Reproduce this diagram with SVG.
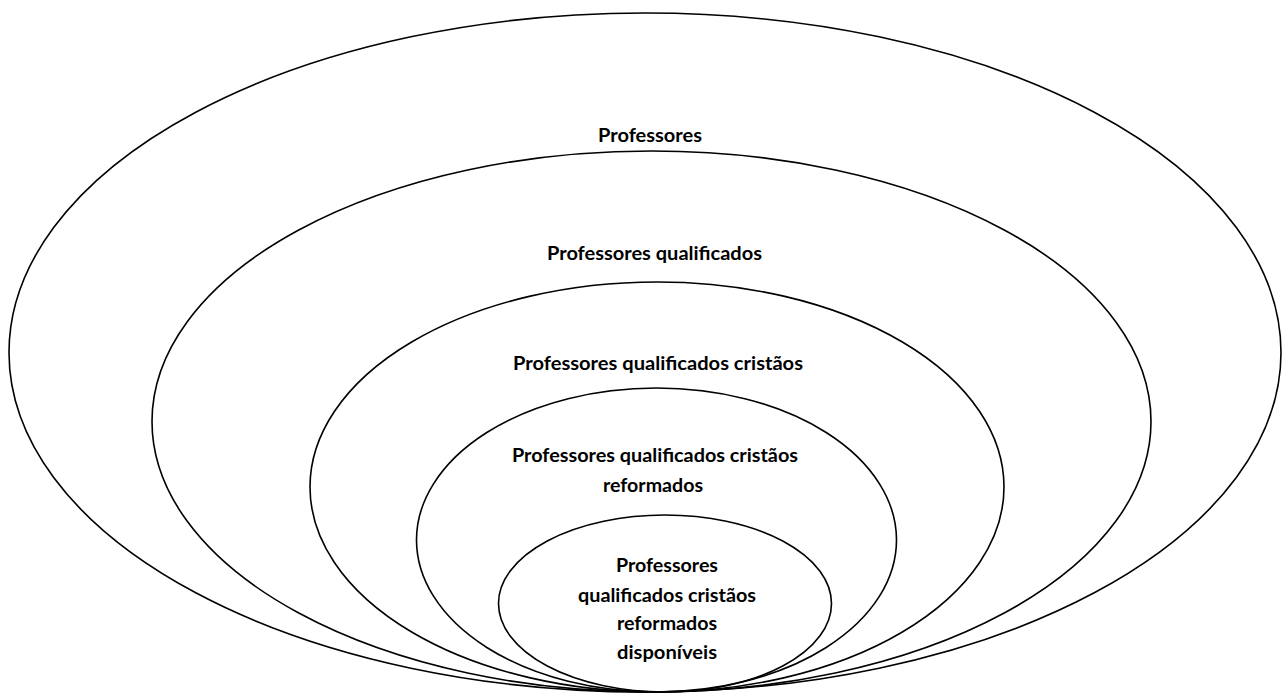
<svg xmlns="http://www.w3.org/2000/svg" width="1283" height="695" viewBox="0 0 1283 695">
<style>
.e{fill:none;stroke:#000;stroke-width:1.6}
.t{font-family:Lato,"Liberation Sans",sans-serif;font-weight:bold;font-size:19px;fill:#000;text-anchor:middle}
</style>
<rect width="1283" height="695" fill="#fff"/>
<g id="n1"><ellipse class="e" cx="645" cy="352.5" rx="636" ry="339.5"/><text class="t" x="650" y="142" textLength="104" lengthAdjust="spacingAndGlyphs">Professores</text></g>
<g id="n2"><ellipse class="e" cx="651.5" cy="421.5" rx="499.5" ry="270.5"/><text class="t" x="654.5" y="260" textLength="215" lengthAdjust="spacingAndGlyphs">Professores qualificados</text></g>
<g id="n3"><ellipse class="e" cx="657" cy="487" rx="347" ry="205"/><text class="t" x="658" y="370" textLength="290" lengthAdjust="spacingAndGlyphs">Professores qualificados cristãos</text></g>
<g id="n4"><ellipse class="e" cx="656.5" cy="540" rx="240" ry="152"/><text class="t" x="655" y="462" textLength="286" lengthAdjust="spacingAndGlyphs">Professores qualificados cristãos</text><text class="t" x="653" y="492" textLength="100" lengthAdjust="spacingAndGlyphs">reformados</text></g>
<g id="n5"><ellipse class="e" cx="665" cy="603.5" rx="166.5" ry="88.5"/><text class="t" x="667" y="572" textLength="102" lengthAdjust="spacingAndGlyphs">Professores</text><text class="t" x="667" y="602" textLength="178" lengthAdjust="spacingAndGlyphs">qualificados cristãos</text><text class="t" x="667" y="630" textLength="100" lengthAdjust="spacingAndGlyphs">reformados</text><text class="t" x="667" y="659" textLength="100" lengthAdjust="spacingAndGlyphs">disponíveis</text></g>
<g id="connectors"/>
</svg>
